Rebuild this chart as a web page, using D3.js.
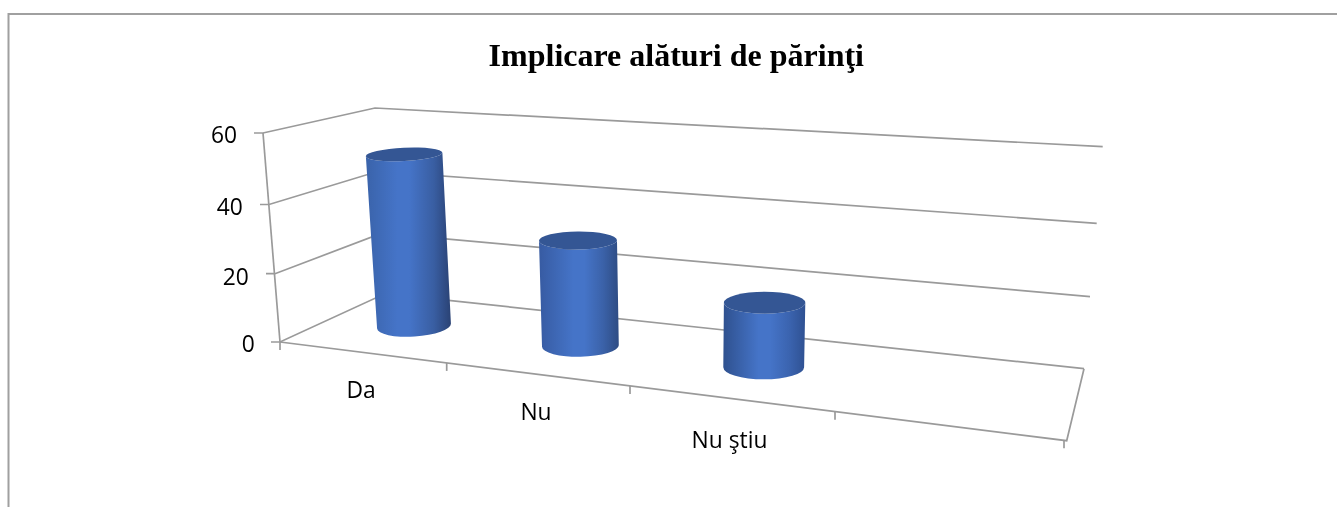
<!DOCTYPE html>
<html><head><meta charset="utf-8">
<script src="https://cdn.jsdelivr.net/npm/d3@7"></script>
<style>html,body{margin:0;padding:0;background:#fff;overflow:hidden}svg{display:block;filter:blur(0.35px)}</style>
</head><body>
<svg id="c" width="1337" height="507"></svg>
<script>
const titleText = "Implicare alături de părinţi";
const categories = ["Da", "Nu", "Nu ştiu"];
const values = [52, 30, 18];
const yTicks = [0, 20, 40, 60];

const W = 1337, H = 507;
const svg = d3.select("#c");

// Perspective of the chart box, as scales over the value axis
const frontX = d3.scaleLinear().domain(yTicks).range([280, 275, 269, 263]);
const frontY = d3.scaleLinear().domain(yTicks).range([342, 273.7, 204.5, 133]);
const backX  = d3.scaleLinear().domain(yTicks).range([385.3, 381.8, 378.3, 375]);
const backY  = d3.scaleLinear().domain(yTicks).range([293.6, 233.2, 171.3, 108]);
const rightX = d3.scaleLinear().domain(yTicks).range([1084, 1090, 1096.7, 1102.7]);
const rightY = d3.scaleLinear().domain(yTicks).range([368.7, 296.7, 223.3, 146.7]);

// Category axis along the front floor edge
const catIdx = [0, 1, 2, 3, 4];
const edgeX = d3.scaleLinear().domain(catIdx).range([280, 446.7, 630, 835, 1064]);
const edgeY = d3.scaleLinear().domain([280, 1066.7]).range([342, 440.7]);

// Bar placement scales over the category index
const barIdx = [0, 1, 2];
const baseX = d3.scaleLinear().domain(barIdx).range([414, 580.4, 763.7]);
const baseY = d3.scaleLinear().domain(barIdx).range([326, 346, 367.3]);
const perUnit = d3.scaleLinear().domain(barIdx).range([3.30, 3.517, 3.59]);
const lean = d3.scaleLinear().domain(barIdx).range([-0.19, -0.08, 0.05]);
const topRx = d3.scaleLinear().domain(barIdx).range([38.3, 39, 40.7]);
const botRx = d3.scaleLinear().domain(barIdx).range([37, 38.4, 40.4]);
const topRy = d3.scaleLinear().domain(barIdx).range([6.6, 9, 11]);
const botRy = d3.scaleLinear().domain(barIdx).range([10.5, 10.7, 12]);
const topTilt = d3.scaleLinear().domain(barIdx).range([-2.8, -0.5, 0]);
const botTilt = d3.scaleLinear().domain(barIdx).range([-3.9, -1.2, 0]);
const edgeL = ["#3a63aa", "#375ba2", "#2f518f"];
const edgeR = ["#2a4274", "#2e4c83", "#2f5192"];
const peak  = [0.44, 0.5, 0.5];
const HILITE = "#4574c8";
const AXIS = "#9a9a9a";
const UI_FONT = "'Open Sans',Lato,sans-serif";

// Outer frame (open to the right and below)
svg.append("path").attr("d", `M8.5,${H}V14H${W}`).attr("fill", "none")
  .attr("stroke", "#a0a0a0").attr("stroke-width", 2);

svg.append("text").attr("x", 676.3).attr("y", 66).attr("text-anchor", "middle")
  .attr("font-family", "'Liberation Serif',serif").attr("font-weight", "bold")
  .attr("font-size", 32).attr("fill", "#000").text(titleText);

// Walls
const wall = svg.append("g").attr("fill", "none").attr("stroke", AXIS).attr("stroke-width", 1.7);
yTicks.forEach(v => {
  wall.append("polyline").attr("points",
    [[frontX(v) - 9, frontY(v)], [frontX(v), frontY(v)], [backX(v), backY(v)], [rightX(v), rightY(v)]].join(" "));
});
wall.append("line").attr("x1", frontX(60)).attr("y1", frontY(60)).attr("x2", frontX(0)).attr("y2", frontY(0));
// Floor
wall.append("polyline").attr("points",
  [[rightX(0), rightY(0)], [edgeX(4) + 2.7, edgeY(edgeX(4) + 2.7)], [frontX(0), frontY(0)]].join(" "));
catIdx.forEach(i => {
  const x = edgeX(i), y = edgeY(x);
  wall.append("line").attr("x1", x).attr("y1", y).attr("x2", x).attr("y2", y + 8);
});

// Value labels
const labelRight = d3.scaleLinear().domain(yTicks).range([254.8, 248.8, 242.8, 237]);
const labelBase  = d3.scaleLinear().domain(yTicks).range([352, 284.5, 214.5, 143]);
svg.append("g").selectAll("text").data(yTicks).join("text")
  .attr("x", d => labelRight(d)).attr("y", d => labelBase(d))
  .attr("text-anchor", "end").attr("font-family", UI_FONT)
  .attr("font-size", 22.8).attr("fill", "#000").text(d => d);

// Cylinders
const defs = svg.append("defs");
values.forEach((v, i) => {
  const g = defs.append("linearGradient").attr("id", "cyl" + i);
  g.append("stop").attr("offset", 0).attr("stop-color", edgeL[i]);
  g.append("stop").attr("offset", peak[i] - 0.07).attr("stop-color", HILITE);
  g.append("stop").attr("offset", peak[i] + 0.07).attr("stop-color", HILITE);
  g.append("stop").attr("offset", 0.8).attr("stop-color", d3.interpolateRgb(HILITE, edgeR[i])(0.45));
  g.append("stop").attr("offset", 1).attr("stop-color", edgeR[i]);
});
const bars = svg.append("g");
values.forEach((v, i) => {
  const bx = baseX(i), by = baseY(i);
  const tx = bx + lean(i) * v, ty = by - perUnit(i) * v;
  const rt = topRx(i), rb = botRx(i), at = topTilt(i), ab = botTilt(i);
  const cs = d => Math.cos(d * Math.PI / 180), sn = d => Math.sin(d * Math.PI / 180);
  const tL = [tx - rt * cs(at), ty - rt * sn(at)], tR = [tx + rt * cs(at), ty + rt * sn(at)];
  const bL = [bx - rb * cs(ab), by - rb * sn(ab)], bR = [bx + rb * cs(ab), by + rb * sn(ab)];
  bars.append("path")
    .attr("d", `M${tL}L${bL}A${rb},${botRy(i)} ${ab} 0 0 ${bR}L${tR}A${rt},${topRy(i)} ${at} 0 1 ${tL}Z`)
    .attr("fill", `url(#cyl${i})`);
  bars.append("ellipse").attr("cx", 0).attr("cy", 0).attr("rx", rt).attr("ry", topRy(i))
    .attr("transform", `translate(${tx},${ty}) rotate(${at})`).attr("fill", "#345694");
});

// Category labels
const labelX = d3.scaleLinear().domain(barIdx).range([361, 536, 729.5]);
const labelY = d3.scaleLinear().domain(barIdx).range([397.5, 420, 448]);
svg.append("g").selectAll("text").data(categories).join("text")
  .attr("x", (d, i) => labelX(i)).attr("y", (d, i) => labelY(i)).attr("text-anchor", "middle")
  .attr("font-family", UI_FONT).attr("font-size", 22.8).attr("fill", "#000").text(d => d);
</script>
</body></html>
